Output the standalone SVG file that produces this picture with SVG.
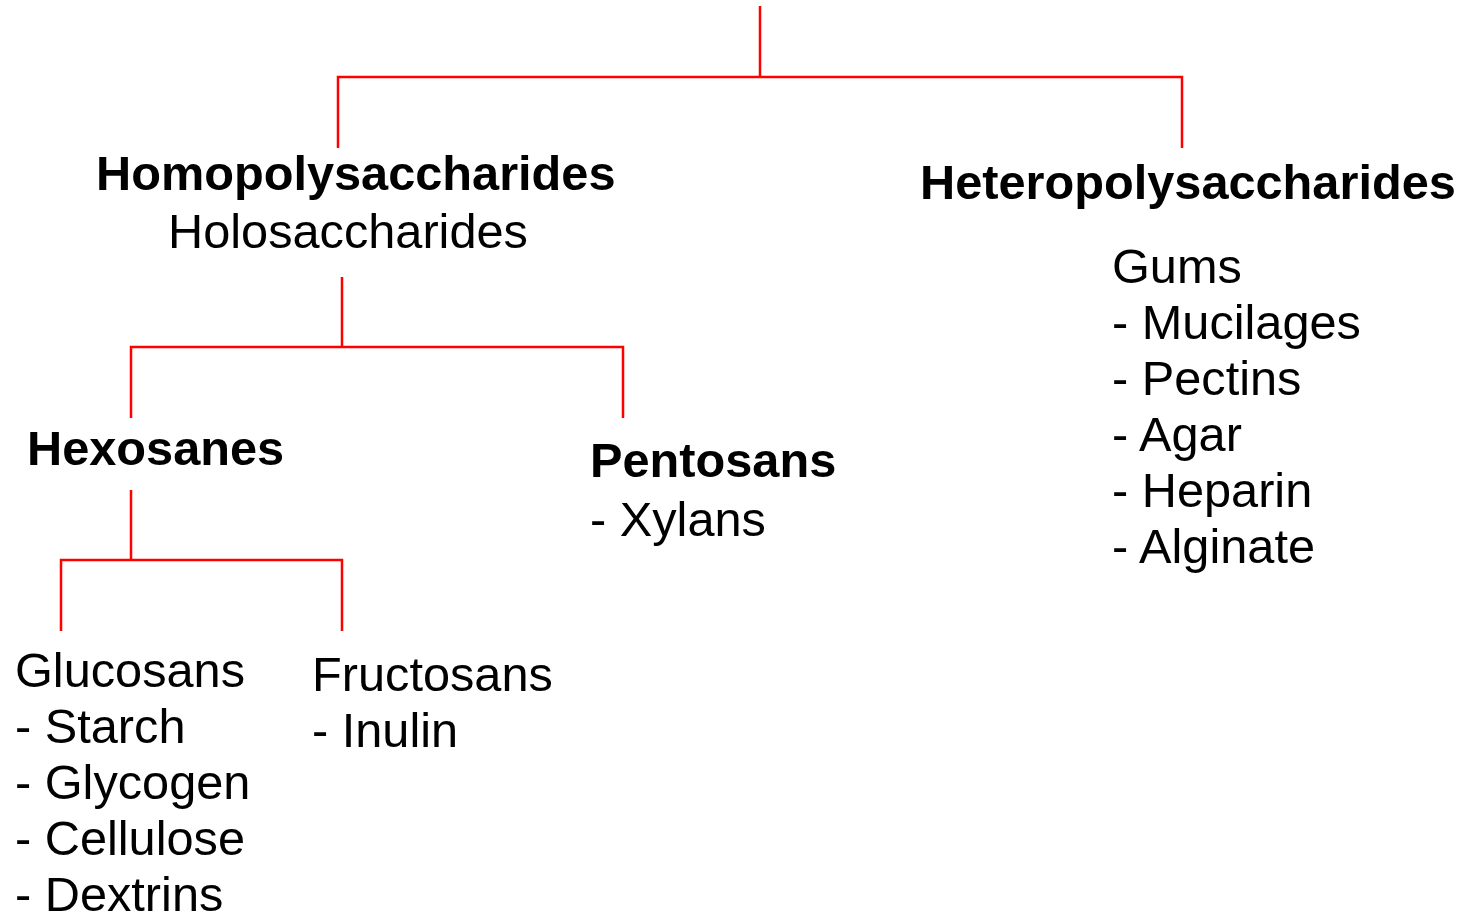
<svg xmlns="http://www.w3.org/2000/svg" width="1464" height="913" viewBox="0 0 1464 913">
<style>
text{font-family:"Liberation Sans",Arial,sans-serif;font-size:48.7px;fill:#000}
.b{font-weight:bold}
.c{fill:none;stroke:#ff0000;stroke-width:2.5}
</style>
<rect width="1464" height="913" fill="#fff"/>
<g id="connectors">
<path class="c" d="M760 6V77M338 148V77H1182V148"/>
<path class="c" d="M342 277V347M131 418V347H623V418"/>
<path class="c" d="M131 490V560M61 631V560H342V631"/>
</g>
<g id="homo">
<text class="b" x="96" y="190">Homopolysaccharides</text>
<text x="168" y="248">Holosaccharides</text>
</g>
<g id="hetero">
<text class="b" x="920" y="199">Heteropolysaccharides</text>
<text x="1112" y="283">Gums</text>
<text x="1112" y="339">- Mucilages</text>
<text x="1112" y="395">- Pectins</text>
<text x="1112" y="451">- Agar</text>
<text x="1112" y="507">- Heparin</text>
<text x="1112" y="563">- Alginate</text>
</g>
<g id="hexosanes">
<text class="b" x="27" y="465">Hexosanes</text>
</g>
<g id="pentosans">
<text class="b" x="590" y="477">Pentosans</text>
<text x="590" y="536">- Xylans</text>
</g>
<g id="glucosans">
<text x="15" y="687">Glucosans</text>
<text x="15" y="743">- Starch</text>
<text x="15" y="799">- Glycogen</text>
<text x="15" y="855">- Cellulose</text>
<text x="15" y="911">- Dextrins</text>
</g>
<g id="fructosans">
<text x="312" y="691">Fructosans</text>
<text x="312" y="747">- Inulin</text>
</g>
</svg>
